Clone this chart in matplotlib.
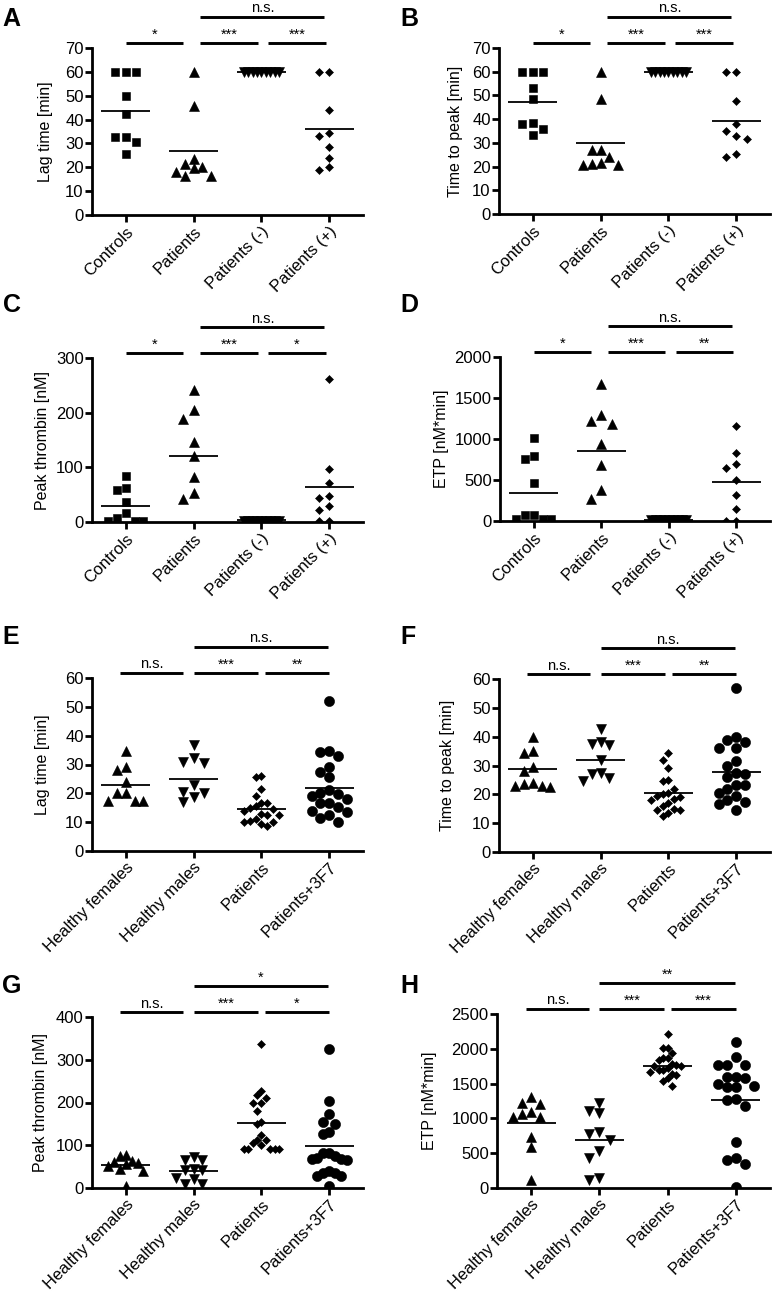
import matplotlib
matplotlib.use('Agg')
import matplotlib.pyplot as plt
import matplotlib.transforms as mtransforms
import numpy as np

plt.rcParams['font.family'] = ['Liberation Sans', 'DejaVu Sans']

# ---- data ----
cats_top = ['Controls', 'Patients', 'Patients (-)', 'Patients (+)']
cats_bottom = ['Healthy females', 'Healthy males', 'Patients', 'Patients+3F7']

# A: lag time
lag_controls = [60, 60, 60, 50, 42.5, 32.5, 32.5, 30.5, 25.5]
lag_patients = [60, 45.5, 23.5, 21.5, 20, 19.5, 18, 16.5, 16.5]
lag_pat_minus = [60, 60, 60, 60, 60, 60, 60, 60, 60]
lag_pat_plus = [60, 60, 44, 34.5, 33, 28.5, 24, 20, 19]
lag_means = [43.8, 26.8, 60, 36.2]

# B: time to peak
ttp_controls = [60, 60, 60, 53, 48.5, 38.5, 38, 36, 33.5]
ttp_patients = [60, 48.5, 27, 27, 24, 21.5, 21, 20.5, 20.5]
ttp_pat_minus = [60, 60, 60, 60, 60, 60, 60, 60, 60]
ttp_pat_plus = [60, 60, 47.5, 38, 35, 33, 31.5, 25.5, 24]
ttp_means = [47.3, 30, 60, 39.3]

# C: peak thrombin
peak_controls = [84, 63, 58, 36, 17, 7, 2, 2, 2]
peak_patients = [241, 205, 189, 147, 120, 83, 53, 42.5]
peak_pat_minus = [2, 2, 2, 2, 2, 2, 2, 2, 2]
peak_pat_plus = [262, 97, 72, 47, 44, 28.5, 22.5, 1, 1]
peak_means = [28.5, 121.4, 3, 63.8]

# D: ETP
etp_controls = [1012, 790, 756, 463, 70, 70, 20, 20, 20]
etp_patients = [1667, 1297, 1215, 1187, 943, 687, 382, 272]
etp_pat_minus = [15, 15, 15, 15, 15, 15, 15, 15, 15]
etp_pat_plus = [1163, 829, 699, 646, 496, 321, 150, 5, 5]
etp_means = [345, 850, 16, 476]

# E: lag time (second study)
lag2_females = [34.7, 29, 28, 24, 20, 20, 17.3, 17.3, 17.3]
lag2_males = [36.6, 32.4, 31, 30.6, 22.9, 20.5, 20, 18.8, 17]
lag2_patients = [26, 25.5, 21.5, 19, 16.5, 16.5, 15.5, 15, 14.5, 14, 13,
                 12.5, 12.5, 11, 10.5, 10, 10, 9.5, 8.5]
lag2_3f7 = [52, 34.8, 34.2, 33, 29.2, 27.5, 25.8, 21, 20, 19.7, 19, 18,
            16.5, 16.5, 15.3, 14, 13.6, 12.6, 11.3, 9.9]
lag2_means = [22.9, 25.0, 14.5, 22.0]

# F: time to peak (second study)
ttp2_females = [40, 35, 34.5, 29.5, 28, 24, 23.5, 23, 23, 22.5]
ttp2_males = [42.5, 38, 37.5, 37, 32, 27.5, 27, 25.5, 24.5]
ttp2_patients = [34.5, 32, 29, 25, 24.5, 22, 20.5, 20, 19.5, 19, 18.5, 18,
                 17, 16, 15, 14.5, 14.5, 13.5, 12.5]
ttp2_3f7 = [57, 40, 39, 38.3, 36, 36, 31.6, 29.8, 27.3, 27, 26, 23.2, 23.2,
            22, 20.3, 19.5, 18, 17.4, 16.8, 14.5]
ttp2_means = [28.7, 31.9, 20.3, 27.7]

# G: peak thrombin (second study)
peak2_females = [78, 74, 62, 60, 58, 55, 52, 45, 40, 5]
peak2_males = [72, 66, 66, 44, 41, 41, 23, 20, 10, 10]
peak2_patients = [336, 227, 217, 210, 198, 198, 179, 155, 150, 124, 113, 113,
                  105, 100, 91, 91, 91, 91, 91]
peak2_3f7 = [326, 203, 172, 155, 150, 132, 126, 82, 82, 75, 70, 68, 68, 66,
             39, 35, 35, 28, 28, 4]
peak2_means = [52.8, 38.8, 151.5, 99.4]

# H: ETP (second study)
etp2_females = [1303, 1216, 1207, 1096, 1062, 1024, 1014, 735, 591, 110]
etp2_males = [1216, 1106, 1072, 808, 774, 687, 530, 433, 149, 110]
etp2_patients = [2216, 2010, 2010, 1940, 1870, 1870, 1840, 1780, 1770, 1760,
                 1760, 1720, 1700, 1690, 1670, 1640, 1620, 1580, 1540, 1470]
etp2_3f7 = [2091, 1889, 1769, 1769, 1769, 1601, 1600, 1587, 1495, 1466, 1457,
            1450, 1274, 1264, 1178, 663, 437, 409, 341, 15]
etp2_means = [937, 687, 1760, 1264]

sig_top = {
    'A': ['*', '***', '***', 'n.s.'],
    'B': ['*', '***', '***', 'n.s.'],
    'C': ['*', '***', '*', 'n.s.'],
    'D': ['*', '***', '**', 'n.s.'],
}
sig_bottom = {
    'E': ['n.s.', '***', '**', 'n.s.'],
    'F': ['n.s.', '***', '**', 'n.s.'],
    'G': ['n.s.', '***', '*', '*'],
    'H': ['n.s.', '***', '***', '**'],
}

# ---- layout (pixels) ----
W, H = 774, 1293
fig = plt.figure(figsize=(W / 100, H / 100), dpi=100)

# letter, (left, top, right, bottom), ylabel right edge, letter position
panels = [
    ('A', (92, 48, 363, 215), 53, (2, 26), 'Lag time [min]', 70, 10,
     [lag_controls, lag_patients, lag_pat_minus, lag_pat_plus], lag_means),
    ('B', (499, 48, 770, 214), 463, (400, 26), 'Time to peak [min]', 70, 10,
     [ttp_controls, ttp_patients, ttp_pat_minus, ttp_pat_plus], ttp_means),
    ('C', (92, 358, 363, 522), 50, (3, 312), 'Peak thrombin [nM]', 300, 100,
     [peak_controls, peak_patients, peak_pat_minus, peak_pat_plus], peak_means),
    ('D', (500, 357, 770, 521), 449, (400, 312), 'ETP [nM*min]', 2000, 500,
     [etp_controls, etp_patients, etp_pat_minus, etp_pat_plus], etp_means),
    ('E', (92, 678, 363, 851), 50, (2, 644), 'Lag time [min]', 60, 10,
     [lag2_females, lag2_males, lag2_patients, lag2_3f7], lag2_means),
    ('F', (499, 679, 770, 852), 455, (400, 644), 'Time to peak [min]', 60, 10,
     [ttp2_females, ttp2_males, ttp2_patients, ttp2_3f7], ttp2_means),
    ('G', (92, 1017, 363, 1188), 48, (2, 993), 'Peak thrombin [nM]', 400, 100,
     [peak2_females, peak2_males, peak2_patients, peak2_3f7], peak2_means),
    ('H', (497, 1014, 770, 1188), 437, (400, 993), 'ETP [nM*min]', 2500, 500,
     [etp2_females, etp2_males, etp2_patients, etp2_3f7], etp2_means),
]

markers_top = [('s', 6.3), ('^', 7.0), ('v', 7.0), ('D', 4.3)]
markers_bottom = [('^', 7.0), ('v', 7.0), ('D', 4.3), ('o', 7.3)]

# bar comparisons: (i, j, level) and gaps at start/end (category units)
comps = [(0, 1, 0), (1, 2, 0), (2, 3, 0), (1, 3, 1)]
gaps_top = [(0.0, 0.15), (0.1, 0.05), (0.1, 0.05), (0.1, 0.07)]
gaps_bottom = [(-0.08, 0.15), (0.0, 0.05), (0.05, 0.0), (0.0, 0.02)]


def swarm(ax, x0, vals, step_px, maxw=0.26):
    # simple beeswarm: columns of one marker width, greedy from the centre
    ys = ax.transData.transform(
        np.column_stack([np.full(len(vals), x0), vals]))[:, 1]
    unit_px = ax.transData.transform((1, 0))[0] - ax.transData.transform((0, 0))[0]
    placed = []
    ks = []
    for y in ys:
        for k in [0, -1, 1, -2, 2, -3, 3, -4, 4, -5, 5, -6, 6]:
            if all(not (pk == k and abs(y - py) < step_px * 0.9)
                   for pk, py in placed):
                break
        placed.append((k, y))
        ks.append(k)
    offs = np.array(ks, dtype=float) * step_px / unit_px
    m = np.abs(offs).max()
    if m > maxw:
        offs *= maxw / m
    return x0 + offs


for letter, (l, t, r, b), ylab_x, (lx, ly), ylabel, ymax, ystep, groups, means in panels:
    ax = fig.add_axes([l / W, 1 - b / H, (r - l) / W, (b - t) / H])
    h_px = b - t
    top_row = letter in sig_top
    cats = cats_top if top_row else cats_bottom
    mk = markers_top if top_row else markers_bottom
    sigs = sig_top[letter] if top_row else sig_bottom[letter]
    gaps = gaps_top if top_row else gaps_bottom

    ax.set_xlim(-0.5, 3.5)
    ax.set_ylim(0, ymax)
    ax.set_yticks(np.arange(0, ymax + 1, ystep))
    ax.set_xticks(range(4))
    ax.set_xticklabels(cats, rotation=45, ha='right', rotation_mode='anchor',
                       fontsize=12)

    for i, vals in enumerate(groups):
        m, ms = mk[i]
        xs = swarm(ax, i, vals, 10.5)
        ax.plot(xs, vals, ls='none', marker=m, ms=ms, color='black',
                mec='black', mew=0.4, zorder=3)
        ax.plot([i - 0.36, i + 0.36], [means[i], means[i]], color='black',
                lw=1.3, zorder=4, solid_capstyle='butt')

    for spine in ['top', 'right']:
        ax.spines[spine].set_visible(False)
    for spine in ['left', 'bottom']:
        ax.spines[spine].set_linewidth(2)
    ax.tick_params(width=2, length=5, color='black')
    ax.tick_params(axis='y', pad=1, labelsize=12)
    ax.tick_params(axis='x', pad=1.5)

    ax.set_ylabel(ylabel, fontsize=11.5)
    ax.yaxis.set_label_coords((ylab_x - l) / (r - l), 0.5)

    blend = mtransforms.blended_transform_factory(ax.transData, ax.transAxes)
    for (i, j, level), (g0, g1), s in zip(comps, gaps, sigs):
        yb = 1 + (5 if level == 0 else 31) / h_px
        x0, x1 = i + g0, j - g1
        ax.plot([x0, x1], [yb, yb], color='black', lw=2.1, transform=blend,
                clip_on=False, solid_capstyle='butt')
        ax.text((x0 + x1) / 2, yb + 1.5 / h_px, s, transform=blend,
                ha='center', va='bottom', fontsize=10.5)

    fig.text(lx / W, 1 - ly / H, letter, fontsize=18, fontweight='bold',
             ha='left', va='baseline')

fig.savefig('out.png', dpi=100)
